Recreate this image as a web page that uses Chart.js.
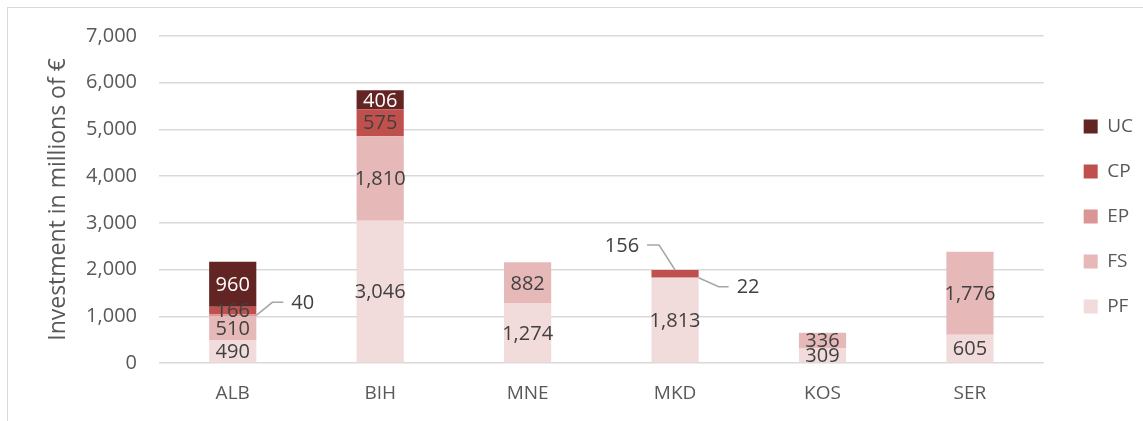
<!DOCTYPE html>
<html>
<head>
<meta charset="utf-8">
<script src="https://cdn.jsdelivr.net/npm/chart.js@4.4.1/dist/chart.umd.min.js"></script>
<style>
    html, body { margin: 0; padding: 0; background: #fff; overflow: hidden; }
    #frame { position: absolute; left: 7px; top: 7px; width: 1300px; height: 600px; border: 1px solid #d9d9d9; }
    #wrap { position: absolute; left: 0; top: 0; width: 1143px; height: 421px; }
</style>
</head>
<body>
<div id="frame"></div>
<div id="wrap"><canvas id="investChart"></canvas></div>
<script>
// Data (millions of €)
const countries = ['ALB', 'BIH', 'MNE', 'MKD', 'KOS', 'SER'];
const pfValues = [490, 3046, 1274, 1813, 309, 605];
const fsValues = [510, 1810, 882, 0, 336, 1776];
const epValues = [40, 0, 0, 22, 0, 0];
const cpValues = [166, 575, 0, 156, 0, 0];
const ucValues = [960, 406, 0, 0, 0, 0];
const yMax = 7000;
const yStep = 1000;

// Labels that sit outside the bar with a leader line
const callouts = {
    'EP-ALB': { anchor: 'right', dx: 16, dy: -13, run: 11 },
    'CP-MKD': { anchor: 'top', dx: -16, dy: -25, run: -12 },
    'EP-MKD': { anchor: 'right', dx: 20, dy: 9, run: 10 }
};

Chart.defaults.font.family = '"Open Sans", sans-serif';

// Draw the value labels inside the segments
const valueLabels = {
    id: 'valueLabels',
    afterDatasetsDraw(chart) {
        const ctx = chart.ctx;
        ctx.save();
        ctx.font = '20px "Open Sans", sans-serif';
        ctx.textBaseline = 'middle';
        chart.data.datasets.forEach((ds, di) => {
            const meta = chart.getDatasetMeta(di);
            meta.data.forEach((bar, i) => {
                const v = ds.data[i];
                if (!v) return;
                const text = v.toLocaleString('en-US');
                const mid = (bar.y + bar.base) / 2;
                const co = callouts[ds.label + '-' + countries[i]];
                if (co) {
                    let ax = bar.x + bar.width / 2, ay = mid;
                    if (co.anchor === 'top') { ax = bar.x; ay = bar.y; }
                    const ex = ax + co.dx, ey = ay + co.dy;
                    const tx = ex + co.run;
                    ctx.strokeStyle = '#a6a6a6';
                    ctx.lineWidth = 1.5;
                    ctx.beginPath();
                    ctx.moveTo(ax, ay);
                    ctx.lineTo(ex, ey);
                    ctx.lineTo(tx, ey);
                    ctx.stroke();
                    ctx.fillStyle = '#404040';
                    ctx.textAlign = co.run > 0 ? 'left' : 'right';
                    ctx.fillText(text, tx + (co.run > 0 ? 8 : -8), ey + 1);
                } else {
                    ctx.fillStyle = ds.labelColor;
                    ctx.textAlign = 'center';
                    ctx.fillText(text, bar.x, mid + 1);
                }
            });
        });
        ctx.restore();
    }
};

// Nudge the legend column up a little so it centres like the original
const legendShift = {
    id: 'legendShift',
    afterLayout(chart) {
        if (chart.legend) {
            chart.legend.top -= 5;
            chart.legend.bottom -= 5;
        }
    }
};

function series(label, data, color, labelColor) {
    return {
        label: label,
        data: data,
        backgroundColor: color,
        borderWidth: 0,
        labelColor: labelColor,
        categoryPercentage: 1,
        barPercentage: 0.32
    };
}

const ctx = document.getElementById('investChart').getContext('2d');
const investChart = new Chart(ctx, {
    type: 'bar',
    data: {
        labels: countries,
        datasets: [
            series('PF', pfValues, '#f2dcdb', '#404040'),
            series('FS', fsValues, '#e6b9b8', '#404040'),
            series('EP', epValues, '#d99694', '#404040'),
            series('CP', cpValues, '#c0504d', '#404040'),
            series('UC', ucValues, '#632523', '#ffffff')
        ]
    },
    options: {
        responsive: true,
        maintainAspectRatio: false,
        animation: false,
        layout: {
            padding: { top: 36, right: 0, bottom: 14, left: 0 }
        },
        plugins: {
            legend: {
                position: 'right',
                reverse: true,
                labels: {
                    boxWidth: 14,
                    boxHeight: 14,
                    padding: 26,
                    color: '#595959',
                    font: { size: 19 }
                }
            },
            tooltip: { enabled: false }
        },
        scales: {
            x: {
                stacked: true,
                grid: { display: false },
                border: { display: false },
                ticks: { color: '#595959', font: { size: 19 }, padding: 11 },
                afterFit(scale) { scale.height = 44; }
            },
            y: {
                stacked: true,
                min: 0,
                max: yMax,
                ticks: {
                    stepSize: yStep,
                    color: '#595959',
                    font: { size: 20 },
                    padding: 22,
                    callback: v => v.toLocaleString('en-US')
                },
                grid: { color: '#d9d9d9', lineWidth: 1.5, drawTicks: false },
                border: { display: false },
                title: {
                    display: true,
                    text: 'Investment in millions of €',
                    color: '#595959',
                    font: { size: 23 },
                    padding: { top: 45, bottom: 0 }
                },
                afterFit(scale) { scale.width = 159; }
            },
            // empty spacer between plot and legend
            gap: {
                position: 'right',
                type: 'linear',
                grid: { display: false },
                border: { display: false },
                ticks: { display: false },
                afterFit(scale) { scale.width = 14; }
            }
        }
    },
    plugins: [valueLabels, legendShift]
});
</script>
</body>
</html>
